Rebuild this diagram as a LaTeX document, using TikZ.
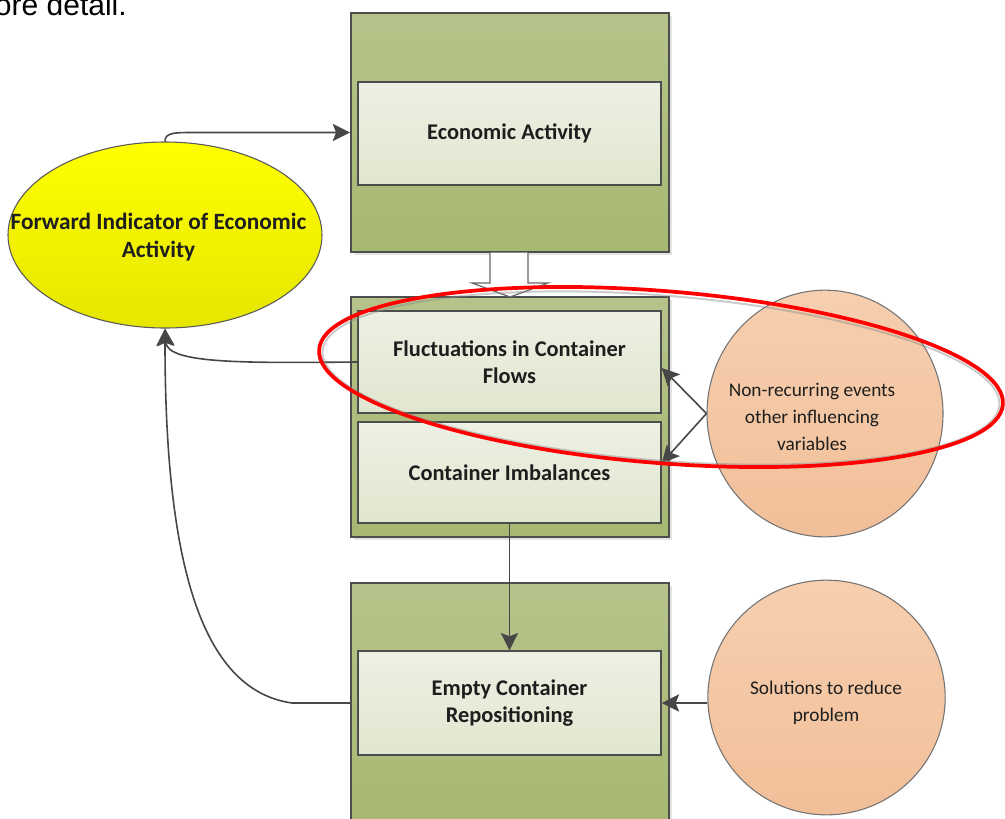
\documentclass[tikz,border=0pt]{standalone}
\usepackage{fontspec}
\setmainfont{Carlito}
\newfontfamily\capfont{Liberation Sans}
\usetikzlibrary{arrows.meta,shapes.geometric,shadows}

\definecolor{oliveA}{HTML}{B5C38A}
\definecolor{oliveB}{HTML}{A7B872}
\definecolor{paleA}{HTML}{EDF0E3}
\definecolor{paleB}{HTML}{E1E6CF}
\definecolor{edge}{HTML}{4D4D4D}
\definecolor{peachA}{HTML}{F7CFAF}
\definecolor{peachB}{HTML}{F1BF99}
\definecolor{yelA}{HTML}{FFFF00}
\definecolor{yelB}{HTML}{E6E600}
\definecolor{ink}{HTML}{1E1E1E}
\definecolor{linkgray}{HTML}{474747}

\begin{document}
\begin{tikzpicture}[x=0.75pt,y=-0.75pt,
  outerbox/.style={draw=edge, line width=1.4pt, top color=oliveA, bottom color=oliveB,
    minimum width=238.5pt, minimum height=180pt, inner sep=0pt,
    drop shadow={shadow xshift=2.5pt, shadow yshift=-2pt, opacity=0.22}},
  innerbox/.style={draw=edge, line width=1.1pt, top color=paleA, bottom color=paleB,
    minimum width=227.25pt, minimum height=77pt, inner sep=0pt, align=center,
    font=\fontsize{16.8}{20}\selectfont\bfseries, text=ink},
  bubble/.style={ellipse, draw=black!55, line width=0.8pt, top color=peachA, bottom color=peachB,
    inner sep=0pt},
  bubbletext/.style={align=center, inner sep=0pt, font=\fontsize{14.5}{20}\selectfont, text=ink},
  link/.style={draw=linkgray, line width=1.2pt, -{Stealth[length=13pt,width=13pt,inset=2.5pt]}},
  hollow/.style={draw=black!60, line width=0.9pt, fill=white}
]
\useasboundingbox (0,0) rectangle (1005,818);
\clip (0,0) rectangle (1005,818);

% caption fragment at the top edge
\node[font=\capfont\fontsize{22.5}{26}\selectfont, text=black, anchor=base east, inner sep=0pt] (cap) at (127,15) {ore detail.};

% outer green frames
\node[outerbox, minimum height=179.25pt] (tOuter) at (510,132.5) {};
\node[outerbox] (mOuter) at (510,417) {};
\node[outerbox] (bOuter) at (510,703) {};

% inner process boxes
\node[innerbox] (eco) at (509.5,133.5) {Economic Activity};
\node[innerbox, minimum height=76.5pt] (fluct) at (509.5,362) {Fluctuations in Container\\Flows};
\node[innerbox, minimum height=75.75pt] (imb) at (509.5,472.5) {Container Imbalances};
\node[innerbox, minimum height=78pt] (empty) at (509.5,703) {Empty Container\\Repositioning};

% hollow block arrow between the first two frames
\draw[hollow] (490,252.5) -- (490,283) -- (472,283) -- (510,297) -- (548,283) -- (528,283) -- (528,252.5);

% forward indicator ellipse
\node[ellipse, draw=black!65, line width=0.8pt, top color=yelA, bottom color=yelB,
  minimum width=235.5pt, minimum height=139.5pt, inner sep=0pt] (fwd) at (165,235) {};
\node[align=center, inner sep=0pt, font=\fontsize{17.5}{20.5}\selectfont\bfseries, text=ink]
  (fwdtext) at (158.5,237) {Forward Indicator of Economic\\Activity};

% side bubbles
\node[bubble, minimum width=177pt, minimum height=185pt] (nr) at (825,413.5) {};
\node[bubbletext] (nrtext) at (812,417) {Non-recurring events\\other influencing\\variables};
\node[bubble, minimum width=178pt, minimum height=176pt] (sol) at (826.5,697.5) {};
\node[bubbletext] (soltext) at (826,702.5) {Solutions to reduce\\problem};

% connectors
\draw[link] (fwd.north) .. controls (165,132) and (175,132.5) .. (200,132.5) -- (tOuter.west);
\draw[link] (fluct.west) .. controls (245,363) and (167,364) .. (fwd.south);
\draw[link] (empty.west -| bOuter.west) -- (292,703) .. controls (200,690) and (165,560) .. (fwd.south);
\draw[link] (imb.south) -- (empty.north);
\draw[link] (sol.west |- empty.east) -- (empty.east);
\draw[link] (nr.west) -- ([yshift=-4.5pt]fluct.east);
\draw[link] (nr.west) -- ([yshift=7pt]imb.east);

% red highlight ring with its soft inner shadow
\draw[black!45, line width=1.5pt, opacity=0.45, rotate around={-4.6:(661,378)}]
  (661,378) ellipse [x radius=339.5, y radius=82.5];
\draw[red, line width=2.8pt, rotate around={-4.6:(661,377)}]
  (661,377) ellipse [x radius=343, y radius=86];
\end{tikzpicture}
\end{document}
